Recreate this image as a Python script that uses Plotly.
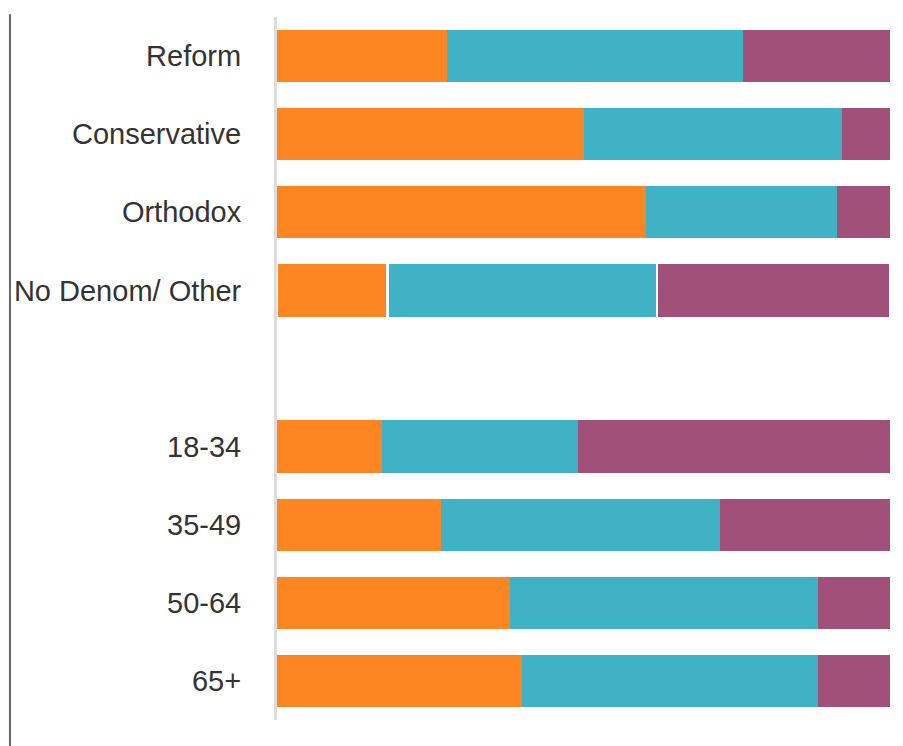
import plotly.graph_objects as go

categories = ["Reform", "Conservative", "Orthodox", "No Denom/ Other", " ",
              "18-34", "35-49", "50-64", "65+"]
series_a = [27.7, 50.1, 60.2, 18.0, None, 17.1, 26.8, 38.0, 40.0]
series_b = [48.3, 42.1, 31.2, 44.0, None, 32.0, 45.5, 50.2, 48.3]
series_c = [24.0, 7.8, 8.6, 38.0, None, 50.9, 27.7, 11.8, 11.7]

colors = ["#fd8623", "#3fb2c5", "#a1507a"]
highlight = "No Denom/ Other"

line_w = [2.5 if c == highlight else 0 for c in categories]
bar_w = [0.71 if c == highlight else 0.67 for c in categories]

fig = go.Figure()
for vals, col in zip([series_a, series_b, series_c], colors):
    fig.add_trace(go.Bar(
        y=categories, x=vals, orientation="h",
        marker=dict(color=col, line=dict(color="white", width=line_w)),
        width=bar_w, hoverinfo="skip", showlegend=False,
    ))

fig.update_layout(
    barmode="stack",
    width=895, height=738,
    margin=dict(l=269, r=13, t=9, b=26),
    paper_bgcolor="white", plot_bgcolor="white",
    font=dict(family="Liberation Sans, Arial, sans-serif", size=29, color="#333333"),
    xaxis=dict(range=[0, 100], visible=False, fixedrange=True, automargin=False),
    yaxis=dict(
        categoryorder="array", categoryarray=categories, autorange="reversed",
        automargin=False,
        showline=True, linecolor="#dddddd", linewidth=3,
        showgrid=False, zeroline=False,
        ticks="outside", ticklen=27, tickcolor="rgba(0,0,0,0)",
        tickfont=dict(size=29, color="#333333"),
    ),
    shapes=[dict(type="line", xref="paper", yref="paper",
                 x0=-0.4356, x1=-0.4356, y0=1.004, y1=-0.05,
                 line=dict(color="#666666", width=2))],
)

fig.write_html("out.html")
